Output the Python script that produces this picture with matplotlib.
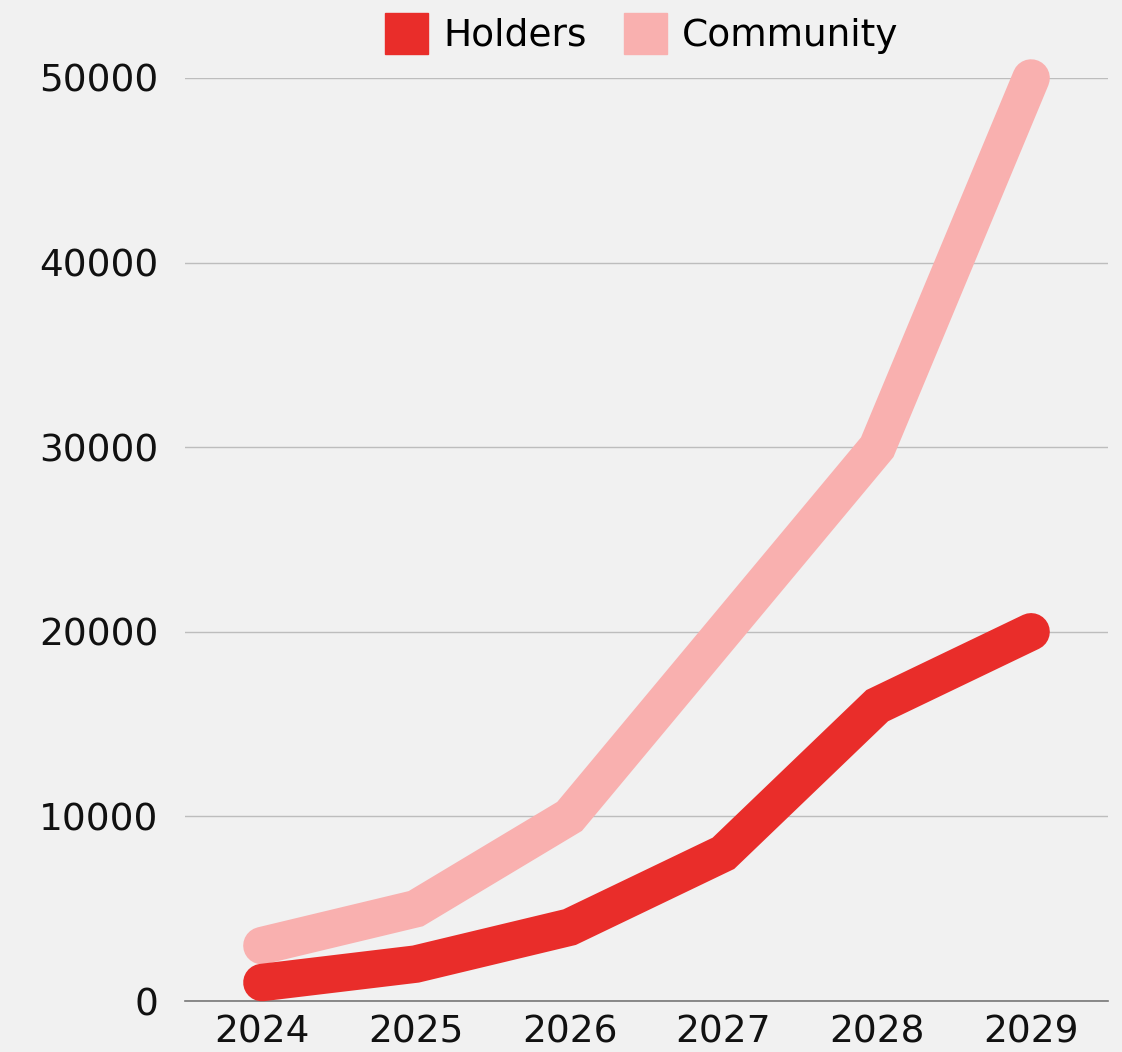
import matplotlib.pyplot as plt
from matplotlib.patches import Patch

annees = ['2024', '2025', '2026', '2027', '2028', '2029']
holders = [1000, 2000, 4000, 8000, 16000, 20000]
community = [3000, 5000, 10000, 20000, 30000, 50000]

rouge = '#e92d2a'
rose = '#f9b0af'
fond = '#f1f1f1'

plt.rcParams['font.family'] = ['DejaVu Sans']

fig = plt.figure(figsize=(11.22, 10.52), dpi=100, facecolor=fond)
ax = fig.add_axes([185/1122, 1 - 1001/1052, (1108-185)/1122, (1001-78)/1052])
ax.set_facecolor(fond)

x = range(len(annees))
ax.plot(x, community, color=rose, linewidth=27, solid_capstyle='round',
        solid_joinstyle='miter', clip_on=False, zorder=3)
ax.plot(x, holders, color=rouge, linewidth=27, solid_capstyle='round',
        solid_joinstyle='miter', clip_on=False, zorder=4)

ax.set_xlim(-0.5, len(annees) - 0.5)
ax.set_ylim(0, 50000)
ax.set_yticks([0, 10000, 20000, 30000, 40000, 50000])
ax.set_xticks(list(x))
ax.set_xticklabels(annees)
ax.grid(axis='y', color='#bdbdbd', linewidth=1)
ax.set_axisbelow(True)

for cote in ['top', 'right', 'left']:
    ax.spines[cote].set_visible(False)
ax.spines['bottom'].set_color('#777777')
ax.spines['bottom'].set_linewidth(1.2)
ax.tick_params(axis='both', length=0, labelsize=27, colors='#111111')
ax.tick_params(axis='y', pad=19)
ax.tick_params(axis='x', pad=10)

poignees = [Patch(color=rouge, label='Holders'), Patch(color=rose, label='Community')]
fig.legend(handles=poignees, loc='upper center', bbox_to_anchor=(0.572, 1.02), ncol=2,
           frameon=False, fontsize=27, handlelength=1.15, handleheight=1.3,
           handletextpad=0.4, columnspacing=1.0)

fig.savefig('out.png', dpi=100, facecolor=fond)
